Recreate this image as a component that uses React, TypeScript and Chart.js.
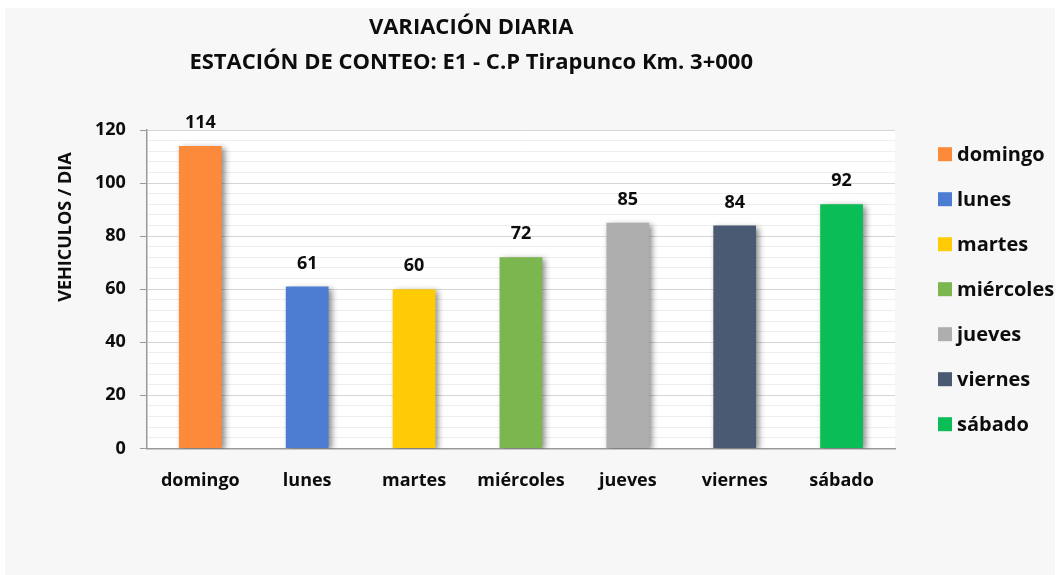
import { useEffect, useRef } from "react";
import { Chart, registerables } from "chart.js";

Chart.register(...registerables);

const categories = ["domingo", "lunes", "martes", "miércoles", "jueves", "viernes", "sábado"];
const values = [114, 61, 60, 72, 85, 84, 92];
const barColors = ["#FD8A3B", "#4D7DD3", "#FFCB05", "#7BB64F", "#AEAEAE", "#4A5A72", "#0BBD56"];
const titleLines = ["VARIACIÓN DIARIA", "ESTACIÓN DE CONTEO: E1 - C.P Tirapunco Km. 3+000"];
const yAxisTitle = "VEHICULOS / DIA";
const yMin = 0;
const yMax = 120;
const yMajorStep = 20;
const yMinorStep = 4;

const FONT = "'Open Sans', 'Noto Sans', sans-serif";

export default function App() {
  const canvasRef = useRef<HTMLCanvasElement | null>(null);

  useEffect(() => {
    const canvas = canvasRef.current;
    if (!canvas) return;

    const decorPlugin = {
      id: "decor",
      beforeDraw(chart: any) {
        const { ctx, chartArea } = chart;
        ctx.save();
        ctx.fillStyle = "#ffffff";
        ctx.fillRect(chartArea.left, chartArea.top, chartArea.right - chartArea.left, chartArea.bottom - chartArea.top);
        ctx.restore();
      },
      beforeDatasetsDraw(chart: any) {
        const ctx = chart.ctx;
        ctx.save();
        ctx.shadowColor = "rgba(0,0,0,0.45)";
        ctx.shadowBlur = 6;
        ctx.shadowOffsetX = 3;
        ctx.shadowOffsetY = 2;
      },
      afterDatasetsDraw(chart: any) {
        const ctx = chart.ctx;
        ctx.restore();
        const { chartArea } = chart;
        // data labels
        const meta = chart.getDatasetMeta(0);
        ctx.save();
        ctx.fillStyle = "#0d0d0d";
        ctx.font = `bold 18px ${FONT}`;
        ctx.textAlign = "center";
        ctx.textBaseline = "alphabetic";
        meta.data.forEach((bar: any, i: number) => {
          ctx.fillText(String(values[i]), bar.x, bar.y - 18);
        });
        ctx.restore();

        // title
        ctx.save();
        ctx.fillStyle = "#0d0d0d";
        ctx.font = `bold 22px ${FONT}`;
        ctx.textAlign = "center";
        ctx.textBaseline = "middle";
        const tx = chart.width * 0.444;
        ctx.fillText(titleLines[0], tx, 20);
        ctx.fillText(titleLines[1], tx, 55);
        ctx.restore();

        // y axis title
        ctx.save();
        ctx.fillStyle = "#0d0d0d";
        ctx.font = `bold 18px ${FONT}`;
        ctx.textAlign = "center";
        ctx.textBaseline = "middle";
        ctx.translate(61, chartArea.top + 97);
        ctx.rotate(-Math.PI / 2);
        ctx.fillText(yAxisTitle, 0, 0);
        ctx.restore();

        // legend
        ctx.save();
        ctx.font = `bold 20px ${FONT}`;
        ctx.textAlign = "left";
        ctx.textBaseline = "middle";
        const cy = (chartArea.top + chartArea.bottom) / 2;
        const n = categories.length;
        categories.forEach((c, i) => {
          const y = cy + (i - (n - 1) / 2) * 45;
          ctx.fillStyle = barColors[i];
          ctx.fillRect(chartArea.right + 43, y - 7, 14, 14);
          ctx.fillStyle = "#0d0d0d";
          ctx.fillText(c, chartArea.right + 62, y + 1);
        });
        ctx.restore();
      },
    };

    const chart = new Chart(canvas, {
      type: "bar",
      data: {
        labels: categories,
        datasets: [
          {
            data: values,
            backgroundColor: barColors,
            borderWidth: 0,
            barPercentage: 0.4,
            categoryPercentage: 1,
          },
        ],
      },
      options: {
        responsive: false,
        animation: false,
        layout: { padding: { left: 76, right: 160, top: 122, bottom: 69 } },
        plugins: {
          legend: { display: false },
          title: { display: false },
          tooltip: { enabled: false },
        },
        scales: {
          x: {
            grid: { display: false },
            border: { display: true, color: "#9a9a9a", width: 1.5 },
            ticks: {
              color: "#0d0d0d",
              font: { family: FONT, size: 18, weight: "bold" },
              padding: 14,
              maxRotation: 0,
            },
          },
          y: {
            min: yMin,
            max: yMax,
            grid: {
              color: (ctx: any) => (ctx.tick && ctx.tick.value % yMajorStep === 0 ? "#d6d6d6" : "#eeeeee"),
              tickColor: (ctx: any) => (ctx.tick && ctx.tick.value % yMajorStep === 0 ? "#9a9a9a" : "rgba(0,0,0,0)"),
              tickLength: 7,
            },
            border: { display: true, color: "#9a9a9a", width: 1.5 },
            ticks: {
              stepSize: yMinorStep,
              autoSkip: false,
              color: "#0d0d0d",
              font: { family: FONT, size: 18, weight: "bold" },
              padding: 14,
              callback: (v: any) => (Number(v) % yMajorStep === 0 ? String(v) : ""),
            },
          },
        },
      },
      plugins: [decorPlugin],
    });

    return () => chart.destroy();
  }, []);

  return (
    <div style={{ position: "fixed", left: 0, top: 0, width: 1057, height: 575, background: "#ffffff" }}>
      <div style={{ position: "absolute", left: 5, top: 8, width: 1050, height: 567, background: "#f7f7f7" }}>
        <canvas ref={canvasRef} width={1050} height={567} style={{ display: "block" }} />
      </div>
    </div>
  );
}
